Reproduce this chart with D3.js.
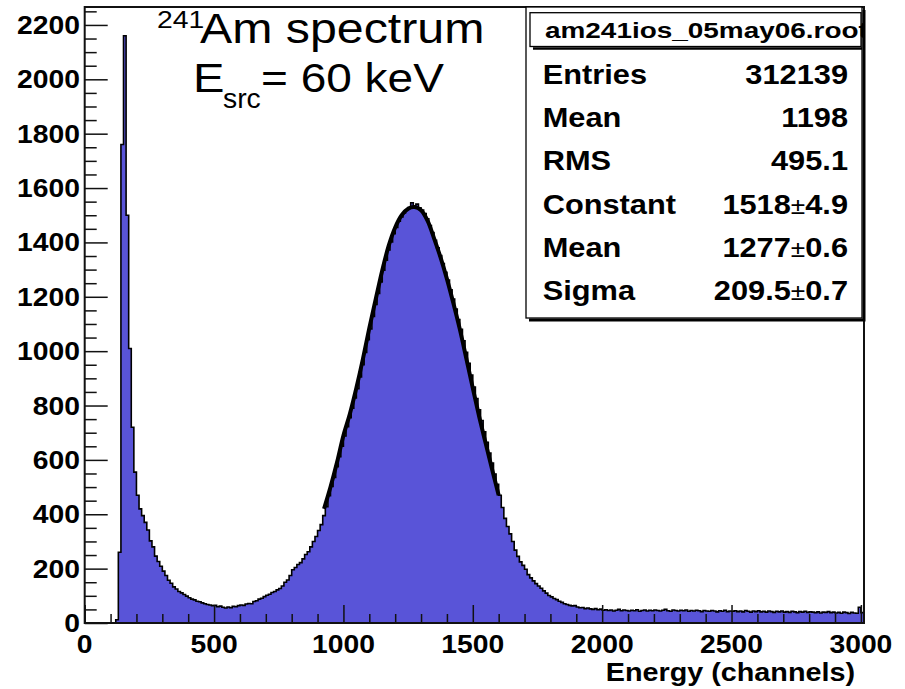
<!DOCTYPE html>
<html><head><meta charset="utf-8">
<script src="https://cdn.jsdelivr.net/npm/d3@7"></script>
<style>html,body{margin:0;padding:0;background:#fff;} svg{display:block;}</style>
</head><body>
<svg id="chart" width="905" height="689"></svg>
<script>
// ---- data (counts per 10-channel bin) ----
const binWidth = 10;
const counts = [
  0,0,0,0,0,0,0,0,0,0,
  0,0,12,260,1760,2160,1500,1010,720,555,
  470,420,395,370,342,302,280,246,226,209,
  191,175,157,146,133,125,116,111,105,99,
  93,88,85,80,78,74,71,68,66,64,
  65,60,62,58,55,59,56,61,60,64,
  66,65,70,72,71,79,82,88,91,97,
  102,106,112,116,122,127,136,150,158,175,
  196,204,215,222,236,252,262,280,300,318,
  340,362,395,428,468,502,535,575,612,650,
  688,722,755,790,828,862,905,950,995,1042,
  1082,1128,1172,1212,1255,1298,1335,1372,1402,1432,
  1455,1478,1494,1508,1520,1528,1546,1535,1541,1527,
  1519,1506,1487,1462,1436,1408,1380,1352,1322,1290,
  1262,1226,1192,1155,1116,1080,1038,996,955,912,
  868,826,784,745,703,665,625,588,548,510,
  470,425,385,355,328,300,268,245,225,212,
  198,178,166,155,145,136,128,118,110,101,
  96,90,86,80,76,71,68,65,63,64,
  59,56,57,53,55,52,50,53,49,51,
  47,49,46,48,44,47,50,45,48,46,
  44,47,45,49,43,46,48,44,47,45,
  48,46,44,47,50,45,43,48,46,44,
  47,45,48,43,46,44,47,45,42,46,
  44,43,46,44,41,45,43,47,42,44,
  43,45,42,44,41,46,43,40,44,42,
  45,41,43,40,44,42,39,43,41,44,
  40,42,39,43,41,38,42,40,43,39,
  41,40,38,41,37,40,39,42,38,40,
  37,39,36,40,38,35,39,37,36,58,
  38
];
// Gaussian fit curve
const fitChannels = [925,950,975,1000,1025,1050,1075,1100,1125,1150,1175,1200,1225,1250,1275,1300,1325,1350,1375,1400,1425,1450,1475,1500,1525,1550,1575,1600];
const fitValues   = [420,500,590,690,770,865,970,1085,1192,1297,1388,1455,1500,1524,1530,1518,1480,1416,1346,1266,1176,1080,973,864,758,660,564,470];

const xMajor = [0,500,1000,1500,2000,2500,3000];
const xMinor = d3.range(0, 3001, 100);
const yMajor = [0,200,400,600,800,1000,1200,1400,1600,1800,2000,2200];
const yMinor = d3.range(0, 2251, 50);

const fileTitle = "am241ios_05may06.root";
const statNames  = ["Entries","Mean","RMS","Constant","Mean","Sigma"];
const statValues = ["312139","1198","495.1","1518","1277","209.5"];
const statErrors = [null,null,null,"4.9","0.6","0.7"];
const xTitle = "Energy (channels)";

// ---- layout ----
const W = 905, H = 689;
const L = 84.7, R = 864, T = 7, B = 623;
const x = d3.scaleLinear().domain([0, 3012]).range([L, R]);
const y = d3.scaleLinear().domain([0, 2266]).range([B, T]);
const FONT = '"Liberation Sans", Arial, Helvetica, sans-serif';

const svg = d3.select('#chart');
svg.append('rect').attr('width', W).attr('height', H).attr('fill', '#fff');

svg.append('defs').append('clipPath').attr('id','plotclip')
  .append('rect').attr('x', L).attr('y', T).attr('width', R - L).attr('height', B - T);

// histogram
const bins = counts.map((c, i) => ({x0: i * binWidth, c}));
bins.push({x0: counts.length * binWidth, c: counts[counts.length - 1]});
const gPlot = svg.append('g').attr('clip-path', 'url(#plotclip)');
gPlot.append('path').datum(bins)
  .attr('d', d3.area().curve(d3.curveStepAfter).x(d => x(d.x0)).y0(y(0)).y1(d => y(d.c)))
  .attr('fill', 'rgb(89,84,216)');
gPlot.append('path').datum(bins)
  .attr('d', d3.line().curve(d3.curveStepAfter).x(d => x(d.x0)).y(d => y(d.c)))
  .attr('fill', 'none').attr('stroke', '#000').attr('stroke-width', 1.6);

// fit
const fitPts = fitChannels.map((ch, i) => [ch, fitValues[i]]);
gPlot.append('path').datum(fitPts)
  .attr('d', d3.line().curve(d3.curveCatmullRom).x(d => x(d[0])).y(d => y(d[1])))
  .attr('fill', 'none').attr('stroke', '#000').attr('stroke-width', 4).attr('stroke-linejoin','round');

// axes (ticks pointing inward)
function styleAxis(g) { g.select('.domain').remove(); g.selectAll('line').attr('stroke', '#111').attr('stroke-width', 1.5); g.selectAll('text').remove(); }
svg.append('g').attr('transform', `translate(0,${B})`)
  .call(d3.axisBottom(x).tickValues(xMinor.filter(v => !xMajor.includes(v))).tickSize(-9)).call(styleAxis);
svg.append('g').attr('transform', `translate(0,${B})`)
  .call(d3.axisBottom(x).tickValues(xMajor).tickSize(-18)).call(styleAxis);
svg.append('g').attr('transform', `translate(${L},0)`)
  .call(d3.axisLeft(y).tickValues(yMinor.filter(v => !yMajor.includes(v))).tickSize(-12)).call(styleAxis);
svg.append('g').attr('transform', `translate(${L},0)`)
  .call(d3.axisLeft(y).tickValues(yMajor).tickSize(-23)).call(styleAxis);

// frame
svg.append('rect').attr('x', L).attr('y', T).attr('width', R - L).attr('height', B - T)
  .attr('fill', 'none').attr('stroke', '#111').attr('stroke-width', 2);

function txt(g, px, py, str, size, weight, anchor, sx) {
  return g.append('text')
    .attr('transform', `translate(${px},${py}) scale(${sx},1)`)
    .attr('text-anchor', anchor)
    .style('font-family', FONT).style('font-size', size + 'px').style('font-weight', weight)
    .attr('fill', '#000').text(str);
}

// tick labels
const gLab = svg.append('g');
yMajor.forEach(v => txt(gLab, 80, y(v) + 9, String(v), 25.5, 'bold', 'end', 1.11));
xMajor.forEach(v => txt(gLab, x(v), 653, String(v), 25.5, 'bold', 'middle', 1.11));
txt(gLab, 855, 681, xTitle, 25, 'bold', 'end', 1.15);

// title
const gT = svg.append('g');
txt(gT, 157, 28, '241', 24, 'normal', 'start', 1.18);
txt(gT, 200, 43, 'Am spectrum', 42, 'normal', 'start', 1.15);
txt(gT, 193, 92, 'E', 40, 'normal', 'start', 1.18);
txt(gT, 223, 108, 'src', 27, 'normal', 'start', 1.05);
txt(gT, 261, 92, '= 60 keV', 40, 'normal', 'start', 1.15);

// stats box
const bx0 = 526, bx1 = 862, by0 = 7, by1 = 318;
const gS = svg.append('g');
gS.append('rect').attr('x', bx0).attr('y', by0).attr('width', bx1 - bx0).attr('height', by1 - by0)
  .attr('fill', '#fff').attr('stroke', '#000').attr('stroke-width', 1.3);
gS.append('path').attr('d', `M${bx0 + 3},${by1 + 2} H${bx1 + 2} V${by0 + 3}`)
  .attr('fill', 'none').attr('stroke', '#000').attr('stroke-width', 3);
// header
const hx0 = 530, hx1 = 861, hy0 = 12.7, hy1 = 46.5;
gS.append('defs').append('clipPath').attr('id', 'hclip')
  .append('rect').attr('x', hx0).attr('y', hy0).attr('width', hx1 - hx0 + 2).attr('height', hy1 - hy0);
gS.append('rect').attr('x', hx0).attr('y', hy0).attr('width', hx1 - hx0).attr('height', hy1 - hy0)
  .attr('fill', '#fff').attr('stroke', '#000').attr('stroke-width', 1.3);
gS.append('path').attr('d', `M${hx0 + 3},${hy1 + 2} H${hx1 + 1}`)
  .attr('fill', 'none').attr('stroke', '#000').attr('stroke-width', 2.5);
const hg = gS.append('g').attr('clip-path', 'url(#hclip)');
txt(hg, 545, 38, fileTitle, 22, 'bold', 'start', 1.27);

const rowY = [83.5, 126.8, 170, 213.5, 256.8, 300];
statNames.forEach((n, i) => {
  txt(gS, 542.7, rowY[i], n, 27, 'bold', 'start', 1.14);
  const t = gS.append('text')
    .attr('transform', `translate(848,${rowY[i]}) scale(1.14,1)`)
    .attr('text-anchor', 'end')
    .style('font-family', FONT).style('font-size', '27px').style('font-weight', 'bold');
  t.append('tspan').text(statValues[i]);
  if (statErrors[i]) {
    t.append('tspan').style('font-weight', 'normal').style('font-size', '23px').text('\u00B1');
    t.append('tspan').text(statErrors[i]);
  }
});
</script>
</body></html>
